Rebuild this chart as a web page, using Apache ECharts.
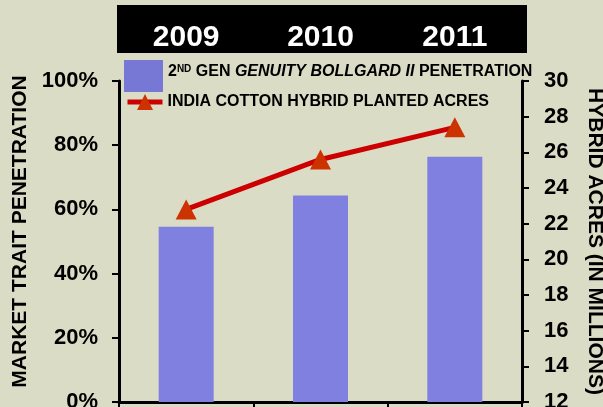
<!DOCTYPE html>
<html>
<head>
<meta charset="utf-8">
<script src="https://cdn.jsdelivr.net/npm/echarts@6/dist/echarts.min.js"></script>
<style>
  html, body { margin: 0; padding: 0; background: #DBDCC5; }
  #chart { width: 603px; height: 407px; }
</style>
</head>
<body>
<div id="chart"></div>
<script>
const years = ['2009', '2010', '2011'];
const penetration = [54.6, 64.3, 76.4];   // % market trait penetration
const hybridAcres = [22.8, 25.6, 27.4];   // millions of acres
const leftTicks = { min: 0, max: 100, interval: 20 };
const rightTicks = { min: 12, max: 30, interval: 2 };

const barName = 'Genuity Bollgard II';
const lineName = 'India cotton hybrid planted acres';
const font = 'Liberation Sans, Arial, sans-serif';
const ink = '#000';

const chart = echarts.init(document.getElementById('chart'));
chart.setOption({
  backgroundColor: '#DBDCC5',
  animation: false,
  textStyle: { fontFamily: font },
  grid: { left: 119, right: 81, top: 81, bottom: 5, outerBoundsMode: 'none', containLabel: false },
  graphic: [{
    type: 'rect', z: -10,
    shape: { x: 117, y: 5, width: 410, height: 48 },
    style: { fill: '#000' }
  }],
  legend: [{
    data: [{ name: barName, icon: 'rect' }], left: 124, top: 60, padding: 0,
    itemWidth: 39, itemHeight: 32,
    itemStyle: { color: '#7777D6' },
    formatter: () => '2{sup|ND} GEN {i|GENUITY BOLLGARD II} PENETRATION',
    textStyle: {
      fontFamily: font, fontWeight: 'bold', fontSize: 16, color: ink, padding: [0, 0, 8, 0],
      rich: {
        sup: { fontFamily: font, fontWeight: 'bold', fontSize: 10, color: ink, verticalAlign: 'top', padding: [0, 0, 6, 0] },
        i: { fontFamily: font, fontWeight: 'bold', fontStyle: 'italic', fontSize: 16, color: ink }
      }
    }
  }, {
    data: [lineName], left: 125, top: 94, padding: 0,
    itemWidth: 35, itemHeight: 20,
    lineStyle: { width: 5 },
    formatter: () => 'INDIA COTTON HYBRID PLANTED ACRES',
    textStyle: { fontFamily: font, fontWeight: 'bold', fontSize: 16, color: ink }
  }],
  xAxis: [{
    type: 'category', data: years, position: 'bottom',
    axisLine: { lineStyle: { color: ink, width: 3 } },
    axisTick: { show: true, length: 7, lineStyle: { color: ink, width: 2 } },
    axisLabel: { show: false }
  }, {
    type: 'category', data: years, position: 'top',
    axisLine: { show: false }, axisTick: { show: false },
    axisLabel: {
      color: '#fff', fontFamily: font, fontWeight: 'bold', fontSize: 30,
      verticalAlign: 'middle', margin: 43
    }
  }],
  yAxis: [{
    type: 'value', position: 'left', ...leftTicks,
    name: 'MARKET TRAIT PENETRATION', nameLocation: 'middle', nameRotate: 90, nameGap: 80,
    nameTextStyle: { fontFamily: font, fontWeight: 'bold', fontSize: 21, color: ink, padding: [0, 0, 0, 20] },
    axisLine: { show: true, lineStyle: { color: ink, width: 3 } },
    axisTick: { show: true, length: 7, lineStyle: { color: ink, width: 2 } },
    axisLabel: { formatter: '{value}%', color: ink, fontFamily: font, fontWeight: 'bold', fontSize: 22, margin: 21 },
    splitLine: { show: false }
  }, {
    type: 'value', position: 'right', ...rightTicks,
    name: 'HYBRID ACRES (IN MILLIONS)', nameLocation: 'middle', nameRotate: -90, nameGap: 62,
    nameTextStyle: { fontFamily: font, fontWeight: 'bold', fontSize: 21, color: ink },
    axisLine: { show: true, lineStyle: { color: ink, width: 3 } },
    axisTick: { show: true, length: 7, lineStyle: { color: ink, width: 2 } },
    axisLabel: { color: ink, fontFamily: font, fontWeight: 'bold', fontSize: 22, margin: 22 },
    splitLine: { show: false }
  }],
  series: [{
    name: barName, type: 'bar', data: penetration,
    xAxisIndex: 0, yAxisIndex: 0, barWidth: 55,
    itemStyle: { color: '#8080E0' }
  }, {
    name: lineName, type: 'line', data: hybridAcres,
    xAxisIndex: 0, yAxisIndex: 1,
    symbol: 'triangle', symbolSize: [21, 20],
    lineStyle: { color: '#CC0000', width: 5 },
    itemStyle: { color: '#CC3300' }
  }]
});
</script>
</body>
</html>
